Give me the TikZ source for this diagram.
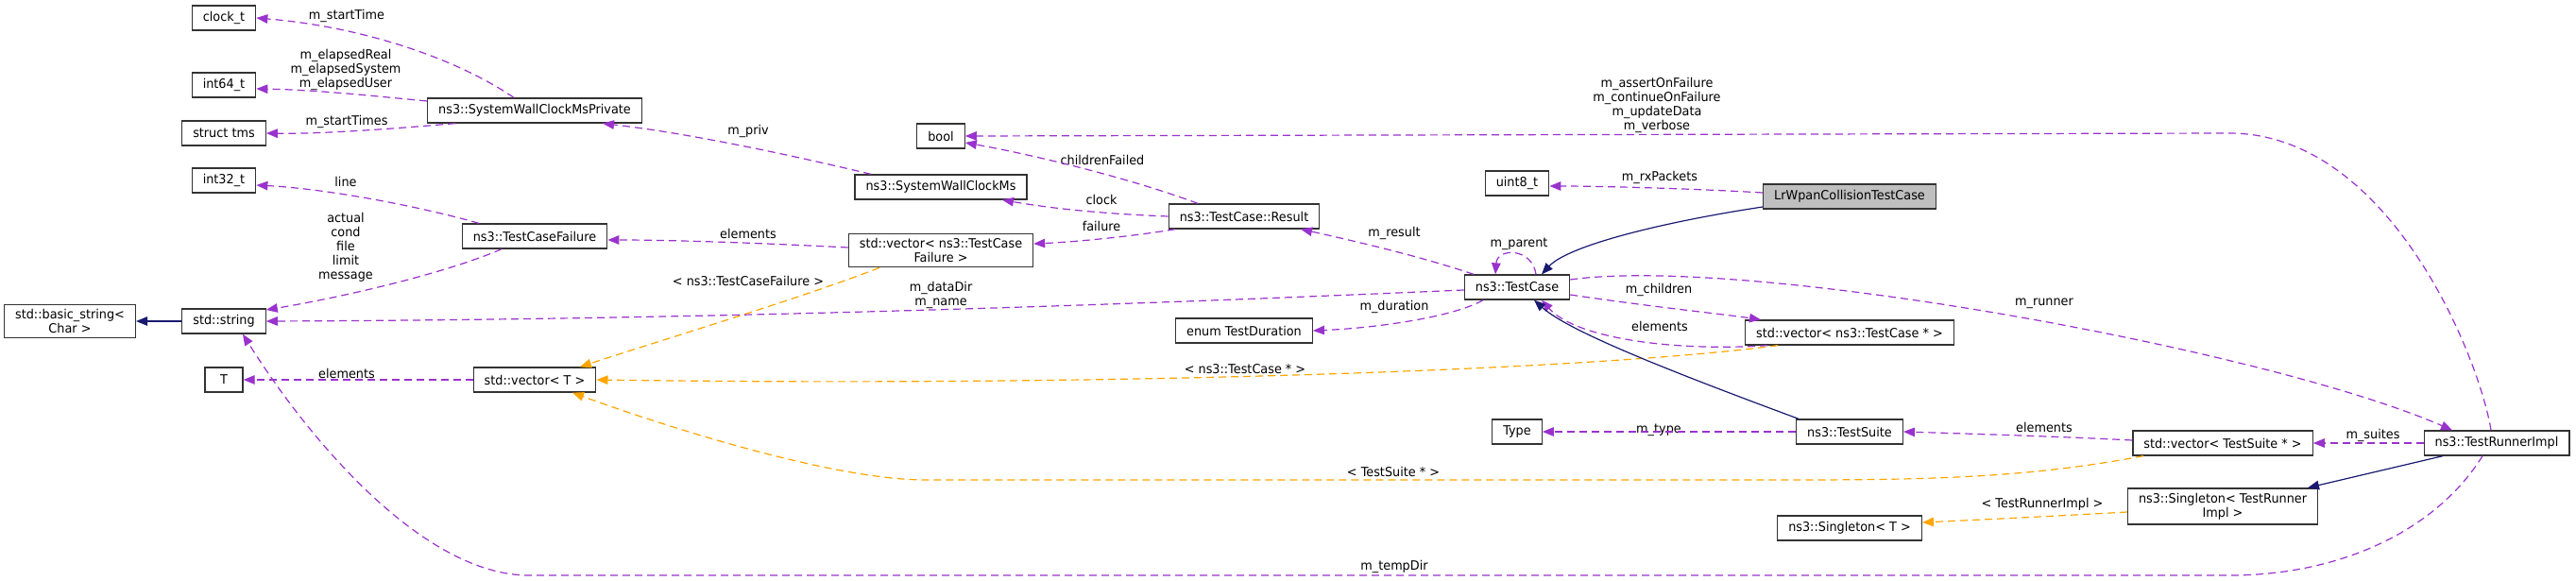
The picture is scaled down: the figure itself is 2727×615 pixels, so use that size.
\documentclass[tikz,border=0pt]{standalone}
\usepackage{fontspec}
\setmainfont{DejaVu Sans}[FakeStretch=0.95]
\usetikzlibrary{arrows.meta}
\definecolor{dxmem}{HTML}{9A32CD}
\definecolor{dxtpl}{HTML}{FFA500}
\definecolor{dxinh}{HTML}{191970}
\definecolor{dxsel}{HTML}{BFBFBF}
\tikzset{
  cls/.style={draw=black!80, line width=1.3pt, fill=white, minimum width=40pt, minimum height=26pt,
    inner xsep=11.5pt, inner ysep=5pt, align=center, font=\fontsize{13.5}{15}\selectfont},
  lbl/.style={inner sep=0pt, align=center, font=\fontsize{13.5}{15}\selectfont},
  mem/.style={dxmem, line width=1.2pt, dash pattern=on 8pt off 5pt, -{Triangle[length=12pt,width=9.5pt]}},
  tpl/.style={dxtpl, line width=1.2pt, dash pattern=on 8pt off 5pt, -{Triangle[length=12pt,width=9.5pt]}},
  inh/.style={dxinh, line width=1.2pt, -{Triangle[length=12pt,width=9.5pt]}},
}

\begin{document}
\begin{tikzpicture}[x=1pt,y=-1pt]
\useasboundingbox (0,0) rectangle (2727,615);
\node[cls] (bstr) at (74,340) {std::basic\_string<\\Char >};
\node[cls] (str) at (237,340) {std::string};
\node[cls] (clk) at (237,19) {clock\_t};
\node[cls] (i64) at (237,90) {int64\_t};
\node[cls] (tms) at (237,141) {struct tms};
\node[cls] (i32) at (237,191) {int32\_t};
\node[cls] (tT) at (237,402) {T};
\node[cls] (swp) at (566,117) {ns3::SystemWallClockMsPrivate};
\node[cls] (tcf) at (566,250) {ns3::TestCaseFailure};
\node[cls] (vT) at (566,402) {std::vector< T >};
\node[cls] (bool) at (996,144) {bool};
\node[cls] (swc) at (996,198) {ns3::SystemWallClockMs};
\node[cls] (vtcf) at (996,265) {std::vector< ns3::TestCase\\Failure >};
\node[cls] (res) at (1317,229) {ns3::TestCase::Result};
\node[cls] (dur) at (1317,350) {enum TestDuration};
\node[cls] (u8) at (1606,194) {uint8\_t};
\node[cls] (tc) at (1606,304) {ns3::TestCase};
\node[cls] (typ) at (1606,457) {Type};
\node[cls, fill=dxsel] (lr) at (1958,208) {LrWpanCollisionTestCase};
\node[cls] (vtc) at (1958,352) {std::vector< ns3::TestCase * >};
\node[cls] (ts) at (1958,457) {ns3::TestSuite};
\node[cls] (sgT) at (1958,559) {ns3::Singleton< T >};
\node[cls] (vts) at (2353,469) {std::vector< TestSuite * >};
\node[cls] (sgr) at (2353,536) {ns3::Singleton< TestRunner\\Impl >};
\node[cls] (tri) at (2643,469) {ns3::TestRunnerImpl};

\node[lbl] (lst) at (367,17) {m\_startTime};
\node[lbl] (lel) at (366,74) {m\_elapsedReal\\m\_elapsedSystem\\m\_elapsedUser};
\node[lbl] (lsts) at (367,129) {m\_startTimes};
\node[lbl] (lln) at (366,192) {line};
\node[lbl] (lac) at (366,262) {actual\\cond\\file\\limit\\message};
\node[lbl] (lelT) at (367,395) {elements};
\node[lbl] (lpr) at (792,139) {m\_priv};
\node[lbl] (lelf) at (792,247) {elements};
\node[lbl] (ltcf) at (792,297) {< ns3::TestCaseFailure >};
\node[lbl] (ldd) at (996,312) {m\_dataDir\\m\_name};
\node[lbl] (lcf) at (1167,169) {childrenFailed};
\node[lbl] (lck) at (1166,211) {clock};
\node[lbl] (lfl) at (1166,239) {failure};
\node[lbl] (lres) at (1476,247) {m\_result};
\node[lbl] (ldur) at (1476,325) {m\_duration};
\node[lbl] (ltc) at (1318,391) {< ns3::TestCase * >};
\node[lbl] (lts) at (1475,499) {< TestSuite * >};
\node[lbl] (ltmp) at (1476,600) {m\_tempDir};
\node[lbl] (lpar) at (1608,258) {m\_parent};
\node[lbl] (lrx) at (1757,188) {m\_rxPackets};
\node[lbl] (lflg) at (1754,111) {m\_assertOnFailure\\m\_continueOnFailure\\m\_updateData\\m\_verbose};
\node[lbl] (lch) at (1756,307) {m\_children};
\node[lbl] (lelc) at (1757,345) {elements};
\node[lbl] (ltyp) at (1756,455) {m\_type};
\node[lbl] (lrun) at (2164,321) {m\_runner};
\node[lbl] (lels) at (2164,452) {elements};
\node[lbl] (ltri) at (2162,534) {< TestRunnerImpl >};
\node[lbl] (lsu) at (2512,461) {m\_suites};

\draw[mem] ([xshift=-22pt]swp.north) .. controls (480,60) and (380,28) .. (clk.east);
\draw[mem] ([yshift=10pt]swp.west) .. controls (380,100) and (330,95) .. ([yshift=-4pt]i64.east);
\draw[mem] ([xshift=-84pt]swp.south) .. controls (420,136) and (340,142) .. (tms.east);
\draw[mem] ([xshift=-74pt]swc.north) .. controls (820,160) and (720,140) .. ([xshift=72pt]swp.south);
\draw[mem] ([xshift=-59pt]tcf.north) .. controls (450,220) and (350,200) .. ([yshift=-5pt]i32.east);
\draw[mem] ([xshift=-35pt]tcf.south) .. controls (470,290) and (360,315) .. ([yshift=12pt]str.east);
\draw[inh] (str.west) -- (bstr.east);
\draw[mem] (vT.west) -- (tT.east);
\draw[mem] ([yshift=3pt]vtcf.west) .. controls (820,258) and (720,254) .. ([yshift=-4pt]tcf.east);
\draw[tpl] ([xshift=-65pt]vtcf.south) .. controls (850,315) and (700,360) .. ([xshift=48pt]vT.north);
\draw[mem] ([xshift=-49pt]res.north) .. controls (1200,190) and (1100,165) .. ([yshift=-7pt]bool.east);
\draw[mem] (res.west) .. controls (1160,226) and (1110,220) .. ([xshift=65pt]swc.south);
\draw[mem] ([xshift=-73pt]res.south) .. controls (1200,250) and (1140,256) .. ([yshift=7pt]vtcf.east);
\draw[mem] ([xshift=-46pt]tc.north) .. controls (1500,270) and (1420,252) .. ([xshift=60pt]res.south);
\draw[mem] ([xshift=20pt]tc.north) .. controls (1622,262) and (1585,262) .. ([xshift=-23pt]tc.north);
\draw[mem] ([yshift=-3pt]tc.west) .. controls (1250,320) and (800,338) .. (str.east);
\draw[mem] ([xshift=-36pt]tc.south) .. controls (1540,335) and (1460,347) .. (dur.east);
\draw[mem] ([yshift=-8pt]tc.east) .. controls (1750,325) and (1820,332) .. ([xshift=-94pt]vtc.north);
\draw[mem] ([xshift=-87pt]vtc.south) .. controls (1780,372) and (1670,360) .. ([xshift=26pt]tc.south);
\draw[mem] ([yshift=8pt]tc.east) .. controls (1850,270) and (2400,370) .. ([xshift=-47pt]tri.north);
\draw[inh] ([yshift=-11pt]lr.west) .. controls (1760,235) and (1660,260) .. ([xshift=26pt]tc.north);
\draw[mem] ([yshift=4pt]lr.west) .. controls (1800,200) and (1700,197) .. ([yshift=-3pt]u8.east);
\draw[mem] ([xshift=-6pt]tri.north) .. controls (2625,380) and (2530,141) .. (2360,141) -- (bool.east);
\draw[tpl] ([xshift=-76pt]vtc.south) .. controls (1700,390) and (1200,410) .. (vT.east);
\draw[inh] ([xshift=-54pt]ts.north) .. controls (1760,390) and (1660,350) .. ([xshift=18pt]tc.south);
\draw[mem] (ts.west) -- (typ.east);
\draw[mem] ([yshift=3pt]vts.west) .. controls (2180,462) and (2080,459) .. (ts.east);
\draw[tpl] ([xshift=-84pt]vts.south) .. controls (2150,505) and (2050,508) .. (1900,508) -- (980,508) .. controls (880,508) and (700,450) .. ([xshift=40pt]vT.south);
\draw[mem] (tri.west) -- (vts.east);
\draw[inh] ([xshift=-57pt]tri.south) -- ([xshift=90pt]sgr.north);
\draw[tpl] ([yshift=-6pt]sgr.west) .. controls (2180,546) and (2100,550) .. ([yshift=6pt]sgT.east);
\draw[mem] ([xshift=-15pt]tri.south) .. controls (2580,560) and (2480,609) .. (2360,609) -- (560,609) .. controls (450,609) and (330,470) .. ([xshift=20pt]str.south);
\end{tikzpicture}
\end{document}
